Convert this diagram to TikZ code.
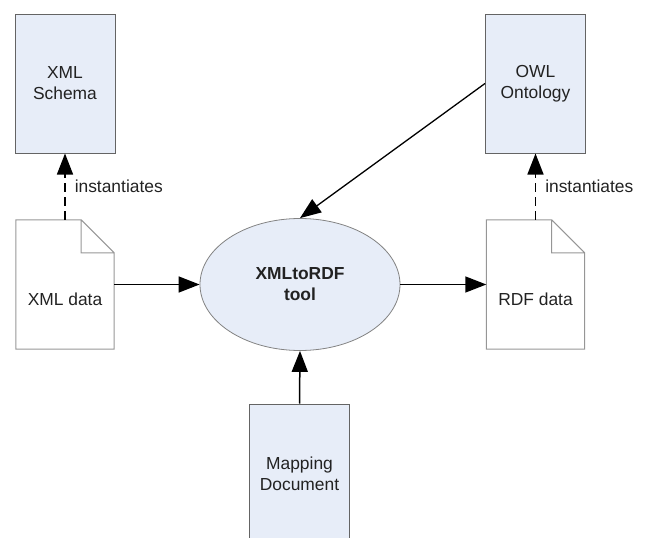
\documentclass[tikz,border=0pt]{standalone}
\usepackage{fontspec}
\setmainfont{Liberation Sans}
\usetikzlibrary{arrows.meta,shapes.geometric}
\definecolor{boxblue}{RGB}{231,237,248}
\definecolor{boxline}{RGB}{100,100,100}
\definecolor{docline}{RGB}{150,150,150}
\definecolor{inktext}{RGB}{34,34,34}
\tikzset{
	txt/.style={font=\fontsize{17.4}{21}\selectfont,text=inktext,align=center},
	bluebox/.style={txt,rectangle,draw=boxline,fill=boxblue,line width=1pt,minimum width=100,minimum height=139},
	docbox/.style={txt,rectangle,minimum width=98,minimum height=129,inner sep=0pt},
	toolell/.style={txt,ellipse,draw=boxline!80,fill=boxblue,line width=.8pt,minimum width=200,minimum height=132,font=\fontsize{17.4}{21}\selectfont\bfseries},
	flow/.style={-{Triangle[length=21pt,width=16pt]},line width=1.5pt},
}
\begin{document}
\begin{tikzpicture}[x=1pt,y=-1pt]
			\useasboundingbox (0,0) rectangle (646,538);
			\clip (0,0) rectangle (646,538);
			\node[bluebox](schema) at (65,83.5){XML\\Schema};
			\node[bluebox](owl) at (535.5,83.5){OWL\\Ontology};
			\node[docbox,label={[txt,yshift=-15]center:XML data}](xmldata) at (65,284.5){};
			\node[docbox,label={[txt,yshift=-15]center:RDF data}](rdfdata) at (535.5,284.5){};
			\node[toolell](tool) at (300,284.5){XMLtoRDF\\tool};
			\node[bluebox](mapping) at (299.5,473.5){Mapping\\Document};
			\foreach \d in {xmldata,rdfdata}{
			\draw[docline,line width=1pt]
			(\d.south west)|-([xshift=-33]\d.north east)--([yshift=-33]\d.north east)|-cycle
			([xshift=-33]\d.north east)|-([yshift=-33]\d.north east);
			}
			\draw[flow,dash pattern=on 9pt off 5pt](xmldata.north)--(schema.south)
			node[midway,right=9pt,txt,inner sep=0pt]{instantiates};
			\draw[flow,dash pattern=on 9pt off 5pt](rdfdata.north)--(owl.south)
			node[midway,right=9pt,txt,inner sep=0pt]{instantiates};
			\draw[flow](xmldata.east)--(tool.west);
			\draw[flow](tool.east)--(rdfdata.west);
			\draw[flow,line width=1.3pt](owl.west)--(tool.north);
			\draw[flow](mapping.north)--(tool.south);
		\end{tikzpicture}
\end{document}
